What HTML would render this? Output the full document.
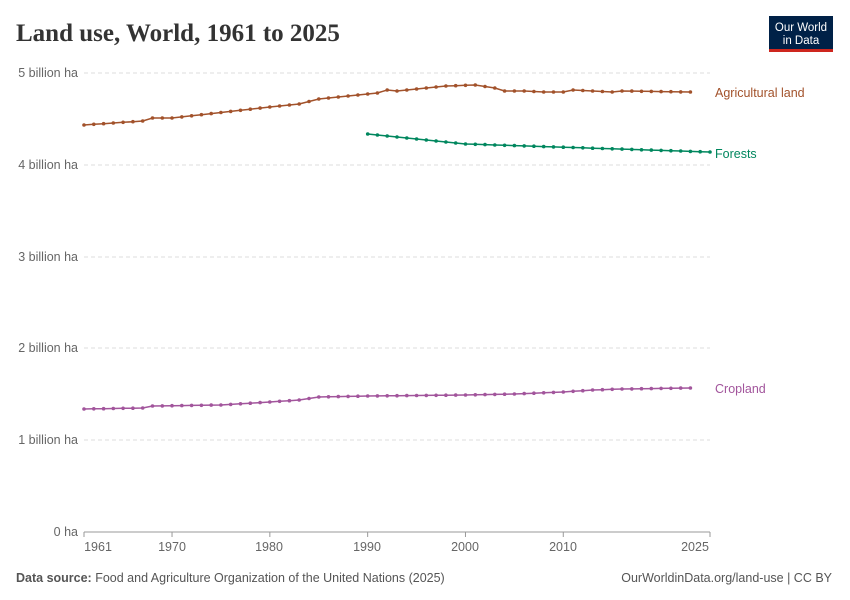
<!DOCTYPE html>
<html><head><meta charset="utf-8"><style>
body{margin:0;background:#fff;font-family:"Liberation Sans",sans-serif;}
</style></head><body>
<svg id="s" width="850" height="600" xmlns="http://www.w3.org/2000/svg" style="display:block">
<text x="16" y="41" font-family="Liberation Serif,serif" font-size="25" font-weight="bold" fill="#333">Land use, World, 1961 to 2025</text>
<rect x="769" y="16" width="64" height="35" fill="#002147"/>
<rect x="769" y="49" width="64" height="3" fill="#ce261e"/>
<text x="801" y="31" font-size="11.5" fill="#fff" text-anchor="middle">Our World</text>
<text x="801" y="44" font-size="11.5" fill="#fff" text-anchor="middle">in Data</text>
<g stroke="#ddd" stroke-dasharray="4,3">
<line x1="84" x2="710" y1="73" y2="73"/><line x1="84" x2="710" y1="165" y2="165"/>
<line x1="84" x2="710" y1="257" y2="257"/><line x1="84" x2="710" y1="348" y2="348"/>
<line x1="84" x2="710" y1="440" y2="440"/>
</g>
<line x1="84" x2="710" y1="532" y2="532" stroke="#999"/>
<g font-size="12.5" fill="#666" text-anchor="end">
<text x="78" y="77">5 billion ha</text><text x="78" y="169">4 billion ha</text>
<text x="78" y="261">3 billion ha</text><text x="78" y="352">2 billion ha</text>
<text x="78" y="444">1 billion ha</text><text x="78" y="536">0 ha</text>
</g>
<g font-size="12.5" fill="#666" text-anchor="middle" id="xt"></g>
<g id="series"></g>
<text x="715" y="97" font-size="12.5" fill="#a2522b">Agricultural land</text>
<text x="715" y="158" font-size="12.5" fill="#00875e">Forests</text>
<text x="715" y="393" font-size="12.5" fill="#a2559c">Cropland</text>
<text x="16" y="582" font-size="12.5" fill="#555"><tspan font-weight="bold">Data source:</tspan> Food and Agriculture Organization of the United Nations (2025)</text>
<text x="832" y="582" font-size="12.5" fill="#555" text-anchor="end">OurWorldinData.org/land-use | CC BY</text>
</svg>
<script>
var NS="http://www.w3.org/2000/svg",X=function(y){return 84+(y-1961)*626/64;};
var xt=document.getElementById('xt');
[[1961,98],[1970,172],[1980,269],[1990,367],[2000,465],[2010,563],[2025,695]].forEach(function(t){
 var e=document.createElementNS(NS,'text');e.setAttribute('x',t[1]);e.setAttribute('y',551);e.textContent=t[0];xt.appendChild(e);
 var l=document.createElementNS(NS,'line');l.setAttribute('x1',X(t[0]));l.setAttribute('x2',X(t[0]));l.setAttribute('y1',532);l.setAttribute('y2',537);l.setAttribute('stroke','#999');xt.appendChild(l);});
function interp(k,y){for(var i=0;i<k.length-1;i++){if(y>=k[i][0]&&y<=k[i+1][0]){var a=k[i],b=k[i+1];return a[1]+(b[1]-a[1])*(y-a[0])/(b[0]-a[0]);}}return k[k.length-1][1];}
function draw(k,s,e,c){var g=document.getElementById('series'),pts=[];
 for(var y=s;y<=e;y++){pts.push(X(y).toFixed(1)+','+interp(k,y).toFixed(1));}
 var p=document.createElementNS(NS,'polyline');p.setAttribute('points',pts.join(' '));p.setAttribute('fill','none');p.setAttribute('stroke',c);p.setAttribute('stroke-width','1.5');g.appendChild(p);
 pts.forEach(function(q){var a=q.split(','),ci=document.createElementNS(NS,'circle');ci.setAttribute('cx',a[0]);ci.setAttribute('cy',a[1]);ci.setAttribute('r','1.8');ci.setAttribute('fill',c);g.appendChild(ci);});}
draw([[1961,125],[1967,121],[1968,118],[1970,118],[1980,107],[1983,104],[1985,99],[1990,94],[1991,93],[1992,90],[1993,91],[1995,89],[1998,86],[2001,85],[2003,88],[2004,91],[2006,91],[2008,92],[2010,92],[2011,90],[2015,92],[2016,91],[2023,92]],1961,2023,'#a2522b');
draw([[1990,134],[1995,139],[2000,144],[2025,152]],1990,2025,'#00875e');
draw([[1961,409],[1967,408],[1968,406],[1975,405],[1980,402],[1983,400],[1985,397],[1990,396],[2000,395],[2005,394],[2010,392],[2013,390],[2016,389],[2023,388]],1961,2023,'#a2559c');
</script>
</body></html>
